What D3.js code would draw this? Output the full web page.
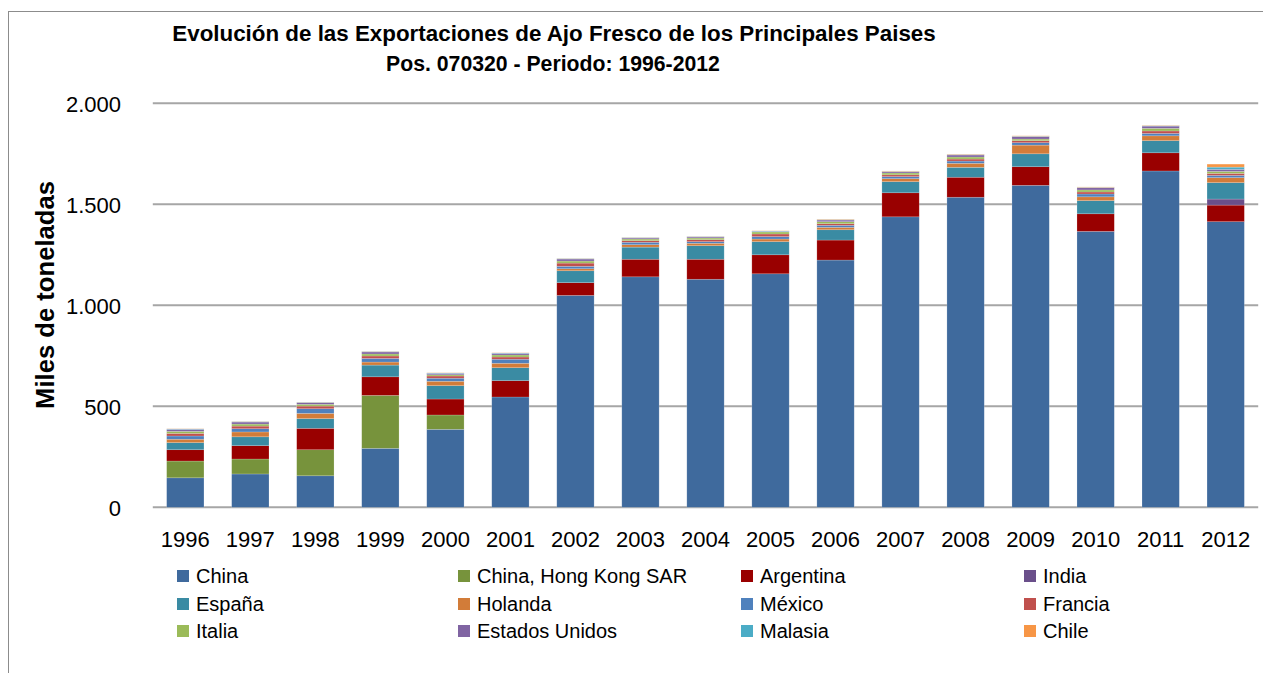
<!DOCTYPE html>
<html>
<head>
<meta charset="utf-8">
<script src="https://cdn.jsdelivr.net/npm/d3@7"></script>
<style>
  html, body { margin: 0; padding: 0; background: #fff; }
  svg { display: block; }
  text { font-family: "Liberation Sans", Arial, sans-serif; fill: #000; }
</style>
</head>
<body>
<svg id="chart" width="1263" height="673"></svg>
<script>
const years = ["1996","1997","1998","1999","2000","2001","2002","2003","2004","2005","2006","2007","2008","2009","2010","2011","2012"];
const seriesNames = ["China","China, Hong Kong SAR","Argentina","India","España","Holanda","México","Francia","Italia","Estados Unidos","Malasia","Chile"];
const china     = [146,165,156,292,386,546,1049,1141,1129,1156,1224,1438,1535,1594,1366,1665,1414];
const hongKong  = [83,74,129,262,71,0,0,0,0,0,0,0,0,0,0,0,0];
const argentina = [56,66,106,92,79,81,63,87,99,94,99,119,99,92,87,90,82];
const india     = [0,0,0,0,0,0,0,0,0,0,0,0,0,0,0,0,30];
const espana    = [35,44,48,58,66,64,59,60,67,65,51,55,49,64,65,60,81];
const holanda   = [17,24,26,15,22,22,10,12,12,13,12,15,20,43,19,24,25];
const mexico    = [16,16,23,18,15,20,12,12,8,12,10,10,11,12,14,12,11];
const francia   = [13,13,13,12,11,11,16,8,10,13,8,9,10,10,10,12,10];
const italia    = [10,10,9,10,6,10,10,8,8,10,10,9,10,8,10,13,10];
const eeuu      = [10,10,8,10,7,8,10,5,5,3,8,6,10,12,11,11,10];
const malasia   = [2,2,2,2,2,2,2,2,2,2,2,2,2,2,2,2,11];
const chile     = [1,1,1,1,1,1,1,1,1,1,2,2,2,2,2,2,15];
const yTicks = [0,500,1000,1500,2000];
const yTickLabels = ["0","500","1.000","1.500","2.000"];
const colors = ["#3F6A9D","#77933C","#990000","#6A4F8A","#3A8BA3","#D27C39","#4F81BD","#C0504D","#9BBB59","#8064A2","#4BACC6","#F79646"];

const values = [china,hongKong,argentina,india,espana,holanda,mexico,francia,italia,eeuu,malasia,chile];
const rows = years.map((y,i) => {
  const r = {year: y};
  seriesNames.forEach((s,k) => r[s] = values[k][i]);
  return r;
});

const svg = d3.select("#chart");

// outer chart frame
svg.append("rect").attr("x", 8.5).attr("y", 11.5).attr("width", 1300).attr("height", 700)
  .attr("fill", "none").attr("stroke", "#8c8c8c").attr("stroke-width", 1);

const plot = {left: 152.8, right: 1258.2, top: 103.3, bottom: 507.3};

const x = d3.scaleBand().domain(years).range([plot.left, plot.right]).paddingInner(0.426).paddingOuter(0.213);
const y = d3.scaleLinear().domain([0, 2000]).range([plot.bottom, plot.top]);

// gridlines
svg.append("g").selectAll("line").data(yTicks).join("line")
  .attr("x1", plot.left).attr("x2", plot.right)
  .attr("y1", d => y(d)).attr("y2", d => y(d))
  .attr("stroke", "#a6a6a6").attr("stroke-width", 2);

// y axis labels
const yAxis = d3.axisLeft(y).tickValues(yTicks).tickFormat((d,i) => yTickLabels[i]).tickSize(0).tickPadding(0);
const gy = svg.append("g").attr("transform", "translate(121,0)").call(yAxis);
gy.select(".domain").remove();
gy.selectAll("text").attr("font-size", 22).attr("font-family", "Liberation Sans, Arial, sans-serif").attr("fill", "#000").attr("dy", "0.36em");

// stacked bars
const stack = d3.stack().keys(seriesNames);
const stacked = stack(rows);
svg.append("g").selectAll("g").data(stacked).join("g")
  .attr("fill", (d,i) => colors[i])
  .selectAll("rect").data(d => d).join("rect")
  .attr("x", d => x(d.data.year))
  .attr("width", x.bandwidth())
  .attr("y", d => y(d[1]))
  .attr("height", d => Math.max(0, y(d[0]) - y(d[1])))
  .attr("stroke", "rgba(255,255,255,0.3)").attr("stroke-width", 0.6);

// x axis labels
const xAxis = d3.axisBottom(x).tickSize(0).tickPadding(0);
const gx = svg.append("g").attr("transform", "translate(0,539)").call(xAxis);
gx.select(".domain").remove();
gx.selectAll("text").attr("font-size", 22).attr("font-family", "Liberation Sans, Arial, sans-serif").attr("fill", "#000").attr("dy", "0.36em");

function fit(sel, target) {
  const w = sel.node().getComputedTextLength();
  const fs = parseFloat(sel.attr("font-size"));
  sel.attr("font-size", fs * target / w);
}

// titles
const t1 = svg.append("text").attr("x", 554).attr("y", 41).attr("text-anchor", "middle")
  .attr("font-weight", "bold").attr("font-size", 19)
  .text("Evolución de las Exportaciones de Ajo Fresco de los Principales Paises");
fit(t1, 764);
const t2 = svg.append("text").attr("x", 553).attr("y", 71).attr("text-anchor", "middle")
  .attr("font-weight", "bold").attr("font-size", 16)
  .text("Pos. 070320 - Periodo: 1996-2012");
fit(t2, 334);

// y title
const yt = svg.append("text").attr("transform", "translate(54,295) rotate(-90)").attr("text-anchor", "middle")
  .attr("font-weight", "bold").attr("font-size", 22).text("Miles de toneladas");
fit(yt, 228);

// legend
const colX = [177, 458, 741, 1024];
const rowY = [576, 604, 631];
const lg = svg.append("g");
seriesNames.forEach((s, i) => {
  const cx = colX[i % 4], cy = rowY[Math.floor(i / 4)];
  lg.append("rect").attr("x", cx).attr("y", cy - 6).attr("width", 12).attr("height", 12).attr("fill", colors[i]);
  lg.append("text").attr("x", cx + 19).attr("y", cy).attr("dy", "0.36em").attr("font-size", 20).text(s);
});
</script>
</body>
</html>
